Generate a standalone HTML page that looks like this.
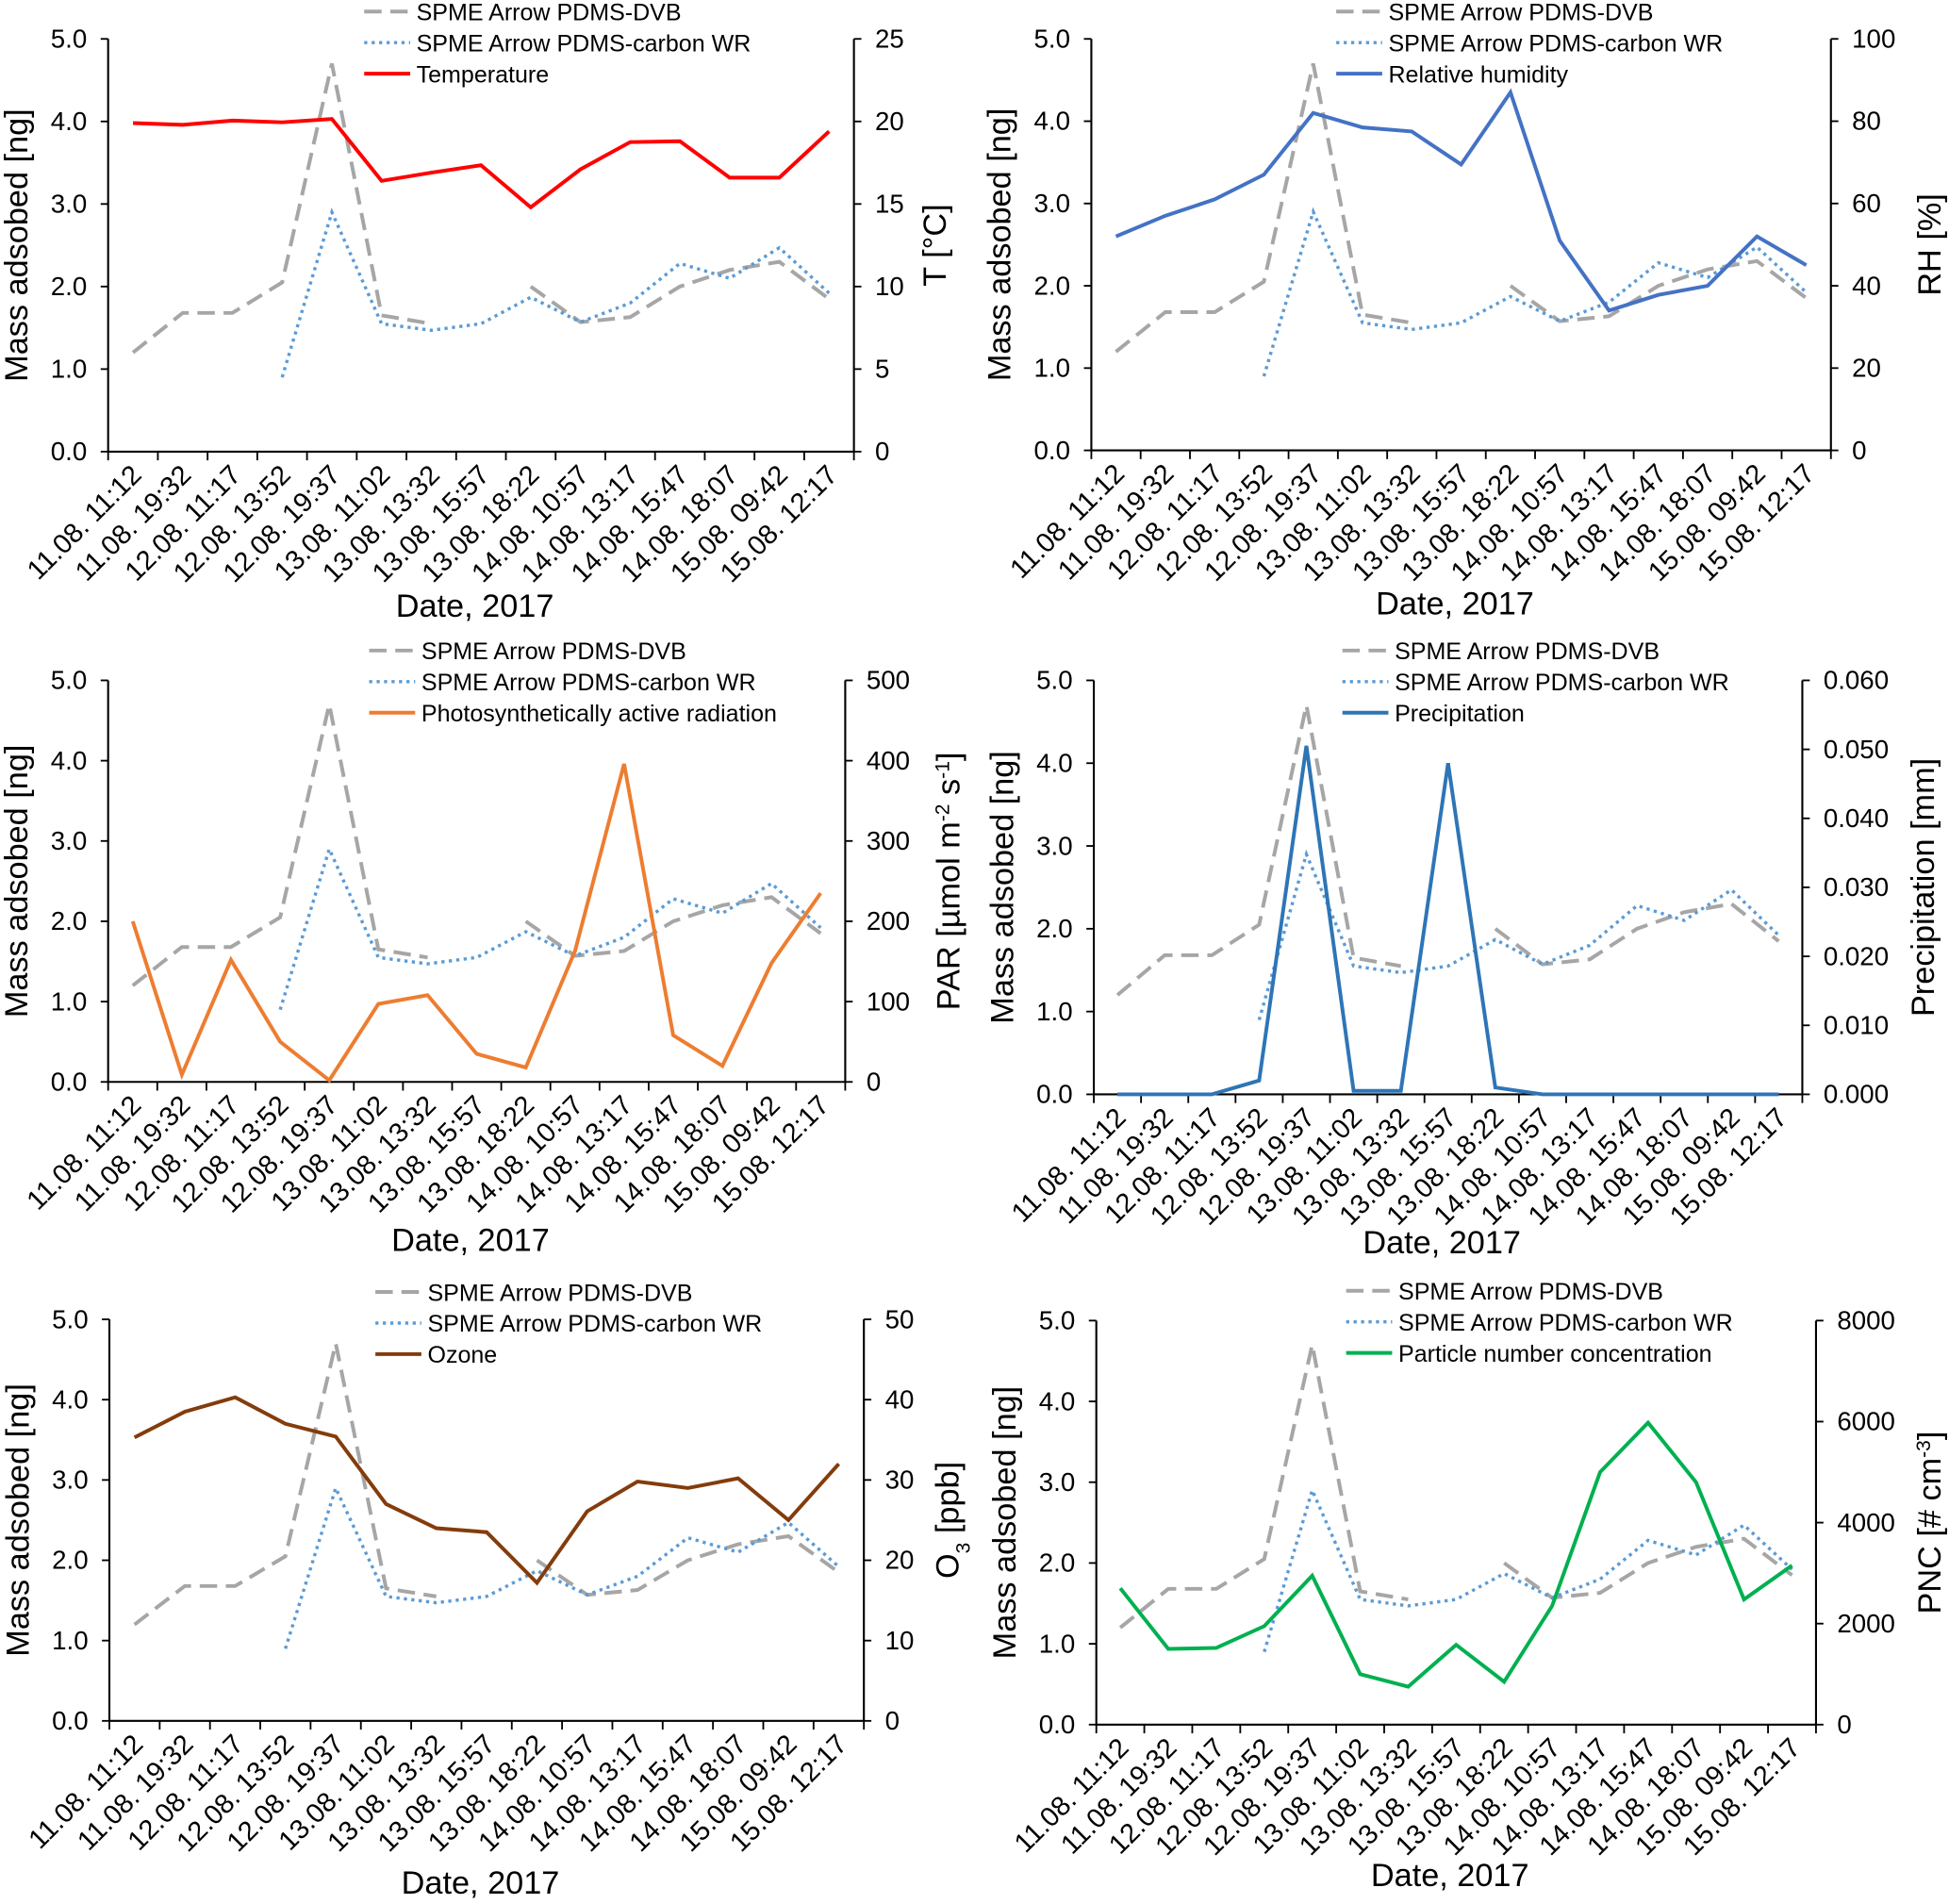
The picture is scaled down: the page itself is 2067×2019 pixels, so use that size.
<!DOCTYPE html>
<html><head><meta charset="utf-8">
<style>
html,body{margin:0;padding:0;background:#fff;}
svg{display:block;font-family:"Liberation Sans",Arial,sans-serif;}
</style></head>
<body>
<svg id="fig" width="2067" height="2019" viewBox="0 0 1568 1531" xmlns="http://www.w3.org/2000/svg"></svg>
<script>
const categories = ["11.08. 11:12","11.08. 19:32","12.08. 11:17","12.08. 13:52","12.08. 19:37","13.08. 11:02","13.08. 13:32","13.08. 15:57","13.08. 18:22","14.08. 10:57","14.08. 13:17","14.08. 15:47","14.08. 18:07","15.08. 09:42","15.08. 12:17"];
const dvb = [1.2,1.68,1.68,2.05,4.7,1.65,1.55,null,2.0,1.57,1.63,2.0,2.2,2.3,1.85];
const carbonWR = [null,null,null,0.9,2.9,1.55,1.47,1.55,1.87,1.57,1.8,2.28,2.1,2.47,1.92];
const temperature = [19.9,19.8,20.05,19.95,20.15,16.4,16.9,17.35,14.8,17.1,18.75,18.8,16.6,16.6,19.4];
const humidity = [52,57,61,67,82,78.5,77.5,69.5,87,51,34,37.8,40,52,45];
const par = [200,9,152,50,2,97,108,35,18,163,396,58,20,148,235];
const precipitation = [0,0,0,0.002,0.0505,0.0005,0.0005,0.048,0.001,0,0,0,0,0,0];
const ozone = [35.3,38.5,40.3,37,35.4,27,24,23.5,17.2,26.1,29.8,29,30.2,25,32];
const pnc = [2700,1500,1520,1950,2950,1000,750,1580,850,2350,5000,5980,4800,2480,3150];
const massTicks = ["0.0","1.0","2.0","3.0","4.0","5.0"];
const tTicks = ["0","5","10","15","20","25"];
const rhTicks = ["0","20","40","60","80","100"];
const parTicks = ["0","100","200","300","400","500"];
const precTicks = ["0.000","0.010","0.020","0.030","0.040","0.050","0.060"];
const o3Ticks = ["0","10","20","30","40","50"];
const pncTicks = ["0","2000","4000","6000","8000"];

const NS="http://www.w3.org/2000/svg";
const svg=document.getElementById('fig');
function mk(tag,attrs,parent){const e=document.createElementNS(NS,tag);for(const k in attrs)e.setAttribute(k,attrs[k]);(parent||svg).appendChild(e);return e;}

const charts=[
 {id:'temperature',L:87,R:687,T:31,B:363,data:temperature,ticks:tTicks,color:'#ff0000',label:'Temperature',legX:293,legY:9,rtX:752,dateY:488,title:[['T [°C]']]},
 {id:'humidity',L:878,R:1473,T:31,B:362,data:humidity,ticks:rhTicks,color:'#4472c4',label:'Relative humidity',legX:1075,legY:9,rtX:1552,dateY:486,title:[['RH [%]']]},
 {id:'par',L:87,R:680,T:547,B:870,data:par,ticks:parTicks,color:'#ed7d31',label:'Photosynthetically active radiation',legX:297,legY:523,rtX:763,dateY:998,title:[['PAR [µmol m'],['-2','sup'],[' s'],['-1','sup'],[']']]},
 {id:'precipitation',L:880,R:1450,T:547,B:880,data:precipitation,ticks:precTicks,color:'#2e75b6',label:'Precipitation',legX:1080,legY:523,rtX:1547,dateY:1000,title:[['Precipitation [mm]']]},
 {id:'ozone',L:88,R:695,T:1061,B:1384,data:ozone,ticks:o3Ticks,color:'#843c0c',label:'Ozone',legX:302,legY:1039,rtX:762,dateY:1515,title:[['O'],['3','sub'],[' [ppb]']]},
 {id:'pnc',L:882,R:1461,T:1062,B:1387,data:pnc,ticks:pncTicks,color:'#00b050',label:'Particle number concentration',legX:1083,legY:1038,rtX:1552,dateY:1509,title:[['PNC [# cm'],['-3','sup'],[']']]}
];

function pathFrom(vals,xf,yf){let d='',pen=false;vals.forEach((v,i)=>{if(v===null){pen=false;return;}d+=(pen?'L':'M')+xf(i).toFixed(1)+' '+yf(v).toFixed(1)+' ';pen=true;});return d;}

charts.forEach(c=>{
 const g=mk('g',{});
 
 
 const n=categories.length, w=(c.R-c.L)/n;
 const xf=i=>c.L+w*(i+0.5);
 const yl=v=>c.B-(v/5)*(c.B-c.T);
 const rmax=parseFloat(c.ticks[c.ticks.length-1]);
 const yr=v=>c.B-(v/rmax)*(c.B-c.T);
 const ax=mk('path',{d:`M${c.L} ${c.T}V${c.B}H${c.R}V${c.T}`,fill:'none',stroke:'#000','stroke-width':1.6},g);
 
 
 massTicks.forEach(t=>{const y=yl(parseFloat(t));
  mk('line',{x1:c.L-6,x2:c.L,y1:y,y2:y,stroke:'#000','stroke-width':1.4},g);
  const tx=mk('text',{x:c.L-17,y:y+7,'text-anchor':'end','font-size':21},g);tx.textContent=t;
  
  
 });
 c.ticks.forEach(t=>{const y=yr(parseFloat(t));
  mk('line',{x1:c.R,x2:c.R+6,y1:y,y2:y,stroke:'#000','stroke-width':1.4},g);
  const tx=mk('text',{x:c.R+17,y:y+7,'text-anchor':'start','font-size':21},g);tx.textContent=t;
  
  
 });
 for(let i=0;i<=n;i++){const x=c.L+w*i;mk('line',{x1:x,x2:x,y1:c.B,y2:c.B+7,stroke:'#000','stroke-width':1.4},g);}
 categories.forEach((cat,i)=>{const x=xf(i)+8,y=c.B+20;
  const tx=mk('text',{x:x,y:y,'text-anchor':'end','font-size':22,transform:`rotate(-45 ${x} ${y})`},g);tx.textContent=cat;
  
  
 });
 const yt=mk('text',{x:0,y:0,'text-anchor':'middle','font-size':26,transform:`translate(${c.L-65} ${(c.T+c.B)/2}) rotate(-90)`},g);yt.textContent='Mass adsobed [ng]';
 
 
 const rt=mk('text',{x:0,y:0,'text-anchor':'middle','font-size':26,transform:`translate(${c.rtX+9} ${(c.T+c.B)/2}) rotate(-90)`},g);
 
 
 c.title.forEach(p=>{const ts=mk('tspan',{},rt);ts.textContent=p[0];if(p[1]==='sup'){ts.setAttribute('baseline-shift','super');ts.setAttribute('font-size',16);}if(p[1]==='sub'){ts.setAttribute('baseline-shift','sub');ts.setAttribute('font-size',16);}});
 const dt=mk('text',{x:(c.L+c.R)/2-5,y:c.dateY+8,'text-anchor':'middle','font-size':26},g);dt.textContent='Date, 2017';
 
 
 const p1=mk('path',{d:pathFrom(dvb,xf,yl),fill:'none',stroke:'#a6a6a6','stroke-width':3,'stroke-dasharray':'14 7'},g);
 
 
 const p2=mk('path',{d:pathFrom(carbonWR,xf,yl),fill:'none',stroke:'#5b9bd5','stroke-width':2.6,'stroke-dasharray':'2.5 3.5'},g);
 
 
 const p3=mk('path',{d:pathFrom(c.data,xf,yr),fill:'none',stroke:c.color,'stroke-width':3,'stroke-linejoin':'miter'},g);
 
 
 const leg=[['SPME Arrow PDMS-DVB','#a6a6a6','14 7',3],['SPME Arrow PDMS-carbon WR','#5b9bd5','2.5 3.5',2.6],[c.label,c.color,'',3]];
 leg.forEach((l,k)=>{const y=c.legY+k*25;
  const le=mk('g',{},g);
  
  
  const ln=mk('line',{x1:c.legX,x2:c.legX+37,y1:y,y2:y,stroke:l[1],'stroke-width':l[3]},le);if(l[2])ln.setAttribute('stroke-dasharray',l[2]);
  const tx=mk('text',{x:c.legX+42,y:y+7,'font-size':19},le);tx.textContent=l[0];
 });
});
</script>
</body></html>
